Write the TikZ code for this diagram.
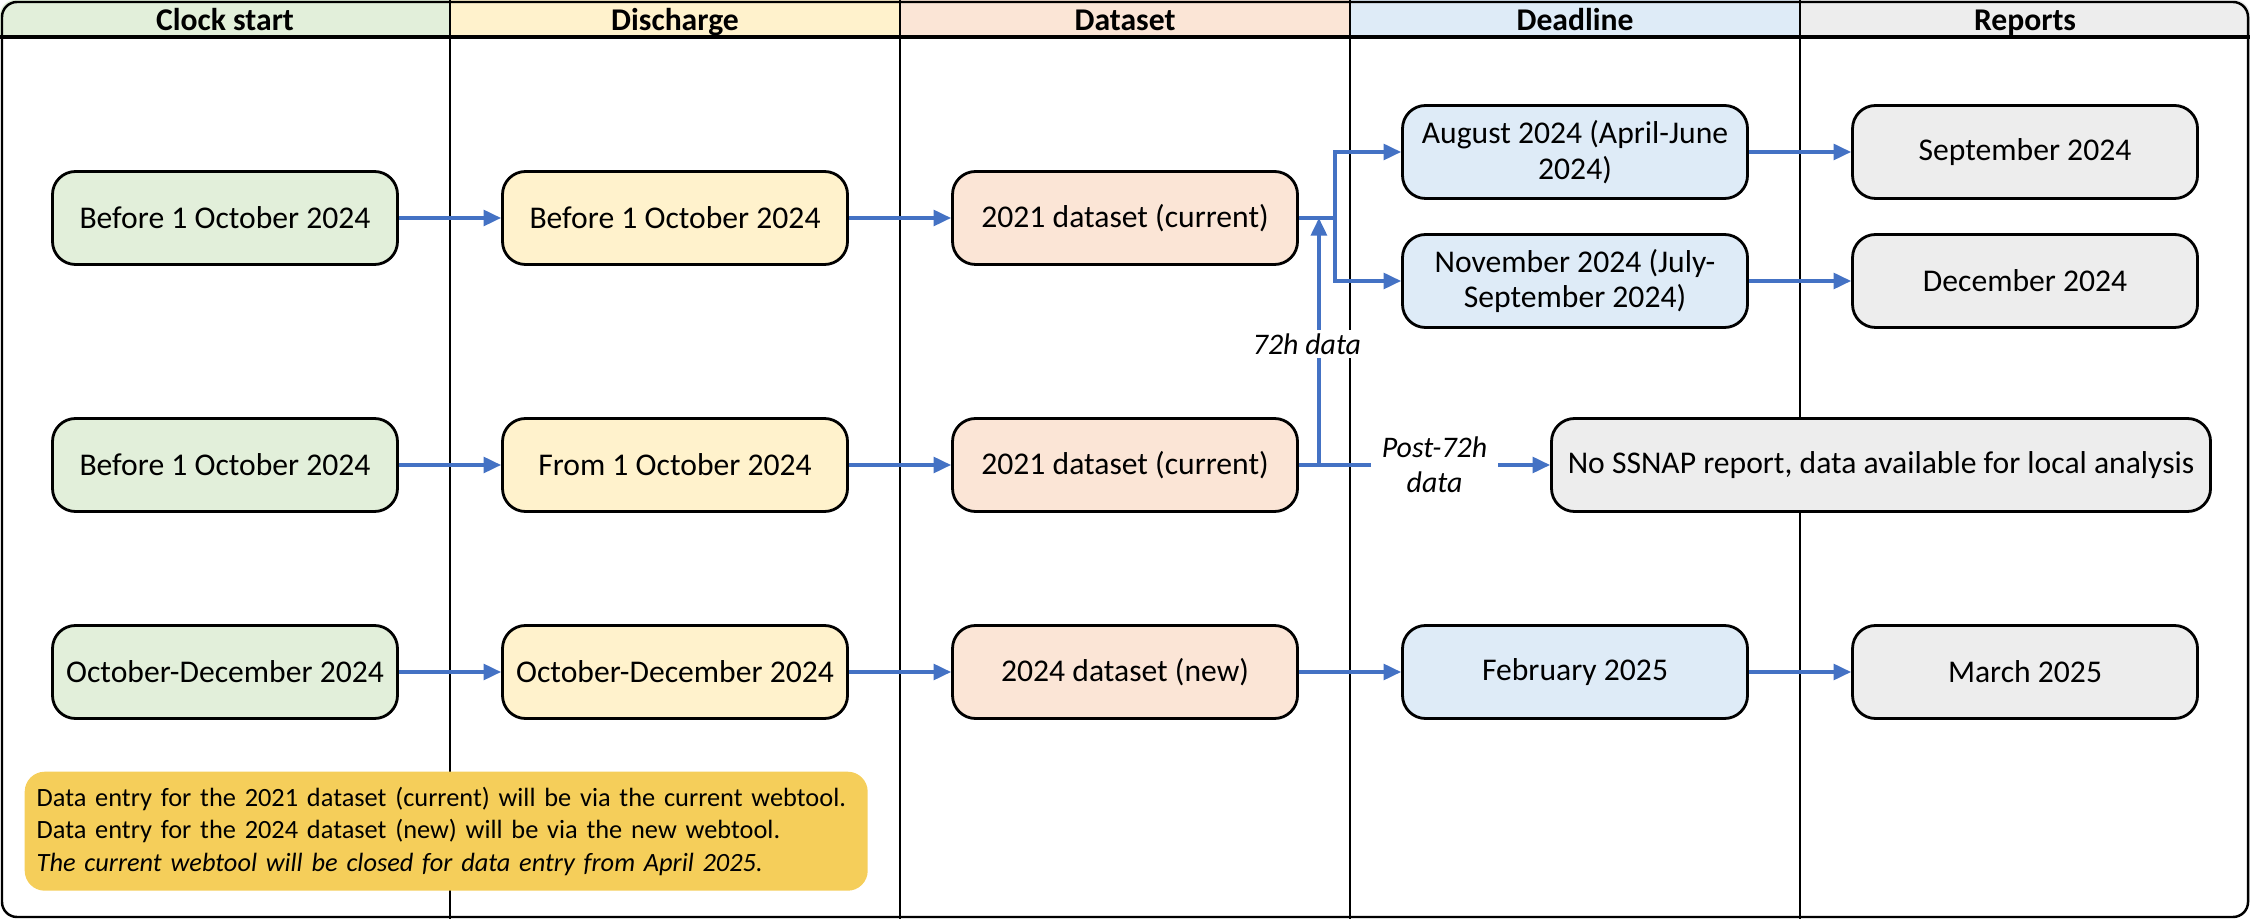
\documentclass[tikz,border=0pt]{standalone}
\usepackage{fontspec}
\setmainfont{Carlito}
\usetikzlibrary{arrows.meta,positioning}

\definecolor{clockgreen}{HTML}{E2EFDA}
\definecolor{dischyellow}{HTML}{FFF2CC}
\definecolor{dataorange}{HTML}{FBE5D6}
\definecolor{deadblue}{HTML}{DEEBF7}
\definecolor{reportgray}{HTML}{EDEDED}
\definecolor{notegold}{HTML}{F5CE5A}
\definecolor{flowblue}{HTML}{4472C4}

\begin{document}
\begin{tikzpicture}[
    stepbox/.style={draw=black, line width=0.8pt, rounded corners=0.23cm,
        minimum width=3.45cm, minimum height=0.93cm, align=center,
        inner sep=2pt, font=\fontsize{9}{10.2}\selectfont},
    flow/.style={draw=flowblue, line width=1pt, -{Triangle[length=5pt,width=4.5pt]}},
    lbl/.style={fill=white, inner sep=1pt, align=center,
        font=\fontsize{8.5}{10}\selectfont\itshape}]

% fix the page size
    \useasboundingbox (0,0) rectangle (22.5,-9.19);

% header cells, clipped to the rounded frame
    \begin{scope}
    \clip[rounded corners=0.15cm] (0,0) rectangle (22.5,-9.19);
    \foreach \col/\name [count=\i from 0] in {clockgreen/Clock start,
        dischyellow/Discharge, dataorange/Dataset, deadblue/Deadline,
        reportgray/Reports} {
        \fill[\col] (\i*4.5,0) rectangle ++(4.5,-0.37);
        \node[anchor=base, font=\fontsize{9}{10}\selectfont\bfseries] (head\i) at (\i*4.5+2.25,-0.31) {\name};
    }
    \end{scope}

% column lines and frame
    \foreach \x in {4.5,9,13.5,18}
        \draw[line width=0.6pt] (\x,0) -- (\x,-9.19);
    \draw[line width=1.2pt] (0,-0.37) -- (22.5,-0.37);
    \draw[line width=0.7pt, rounded corners=0.15cm] (0.02,-0.02) rectangle (22.48,-9.17);

% first row
    \node[stepbox, fill=clockgreen] (start1) at (2.25,-2.18) {Before 1 October 2024};
    \node[stepbox, fill=dischyellow] (dis1) at (6.75,-2.18) {Before 1 October 2024};
    \node[stepbox, fill=dataorange] (data1) at (11.25,-2.18) {2021 dataset (current)};
    \node[stepbox, fill=deadblue] (aug) at (15.75,-1.52) {August 2024 (April-June\\2024)};
    \node[stepbox, fill=deadblue] (nov) at (15.75,-2.81) {November 2024 (July-\\September 2024)};
    \node[stepbox, fill=reportgray] (sep) at (20.25,-1.52) {September 2024};
    \node[stepbox, fill=reportgray] (dec) at (20.25,-2.81) {December 2024};

% second row
    \node[stepbox, fill=clockgreen] (start2) at (2.25,-4.65) {Before 1 October 2024};
    \node[stepbox, fill=dischyellow] (dis2) at (6.75,-4.65) {From 1 October 2024};
    \node[stepbox, fill=dataorange] (data2) at (11.25,-4.65) {2021 dataset (current)};
    \node[stepbox, fill=reportgray, minimum width=6.59cm] (nosnap) at (18.81,-4.65) {No SSNAP report, data available for local analysis};

% third row
    \node[stepbox, fill=clockgreen] (start3) at (2.25,-6.72) {October-December 2024};
    \node[stepbox, fill=dischyellow] (dis3) at (6.75,-6.72) {October-December 2024};
    \node[stepbox, fill=dataorange] (data3) at (11.25,-6.72) {2024 dataset (new)};
    \node[stepbox, fill=deadblue] (feb) at (15.75,-6.72) {February 2025};
    \node[stepbox, fill=reportgray] (mar) at (20.25,-6.72) {March 2025};

% arrows along the rows
    \foreach \a/\b in {start1/dis1, dis1/data1, start2/dis2, dis2/data2,
        start3/dis3, dis3/data3, data3/feb, feb/mar, aug/sep, nov/dec}
        \draw[flow] (\a) -- (\b);

% split of the current dataset
    \draw[flow] (data1.east) -- ++(0.36,0) |- (aug.west);
    \draw[flow] (data1.east) -- ++(0.36,0) |- (nov.west);
    \draw[flow] ([xshift=0.2cm]data2.east) -- node[lbl, xshift=-0.12cm, yshift=-0.03cm] {72h data} ([xshift=0.2cm]data1.east);
    \draw[flow] (data2.east) -- node[lbl, xshift=0.1cm, inner xsep=3pt] {Post-72h\\data} (nosnap.west);

% note on the webtools
    \node[fill=notegold, rounded corners=0.2cm, anchor=north west, align=left,
        minimum height=1.19cm, text width=8.19cm, inner xsep=0.12cm,
        font=\fontsize{7.5}{9.2}\selectfont] (note) at (0.24,-7.71)
        {Data entry for the 2021 dataset (current) will be via the current webtool.\\
         Data entry for the 2024 dataset (new) will be via the new webtool.\\
         \textit{The current webtool will be closed for data entry from April 2025.}};

\end{tikzpicture}
\end{document}
